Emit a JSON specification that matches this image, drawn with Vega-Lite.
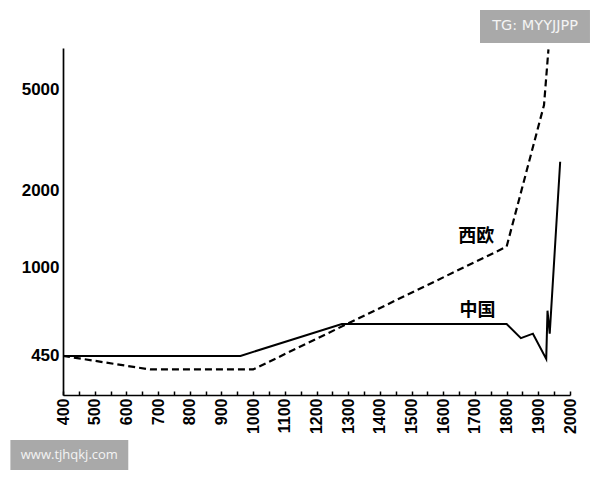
{
  "$schema": "https://vega.github.io/schema/vega-lite/v6.json",
  "autosize": "none",
  "width": 507,
  "height": 347,
  "padding": {"left": 63, "top": 48, "right": 30, "bottom": 85},
  "background": "white",
  "config": {"view": {"stroke": null}},
  "datasets": {
    "series": [
      {"series": "西欧", "year": 400, "value": 450},
      {"series": "西欧", "year": 675, "value": 398},
      {"series": "西欧", "year": 1000, "value": 398},
      {"series": "西欧", "year": 1800, "value": 1207},
      {"series": "西欧", "year": 1918, "value": 4340},
      {"series": "西欧", "year": 1932, "value": 7180},
      {"series": "中国", "year": 400, "value": 450},
      {"series": "中国", "year": 960, "value": 450},
      {"series": "中国", "year": 1280, "value": 600},
      {"series": "中国", "year": 1800, "value": 600},
      {"series": "中国", "year": 1845, "value": 528},
      {"series": "中国", "year": 1883, "value": 550},
      {"series": "中国", "year": 1925, "value": 438},
      {"series": "中国", "year": 1929, "value": 677},
      {"series": "中国", "year": 1936, "value": 550},
      {"series": "中国", "year": 1969, "value": 2600}
    ],
    "labels": [
      {"label": "西欧", "year": 1704, "value": 1318},
      {"label": "中国", "year": 1708, "value": 672}
    ],
    "marks": [
      {"text": "TG: MYYJJPP", "year": 1716, "year2": 2063, "value": 7600, "value2": 10248, "xm": 1890, "ym": 8830},
      {"text": "www.tjhqkj.com", "year": 234, "year2": 606, "value": 160.5, "value2": 210.4, "xm": 420, "ym": 183.7}
    ]
  },
  "encoding": {
    "x": {
      "field": "year", "type": "quantitative",
      "scale": {"domain": [400, 2000], "nice": false, "zero": false},
      "axis": {
        "title": null,
        "values": [400,450,500,550,600,650,700,750,800,850,900,950,1000,1050,1100,1150,1200,1250,1300,1350,1400,1450,1500,1550,1600,1650,1700,1750,1800,1850,1900,1950,2000],
        "labelExpr": "datum.value % 100 === 0 ? format(datum.value, 'd') : ''",
        "labelAngle": 270,
        "labelFont": "Liberation Sans",
        "labelFontSize": 16,
        "labelFontWeight": "bold",
        "labelColor": "#000",
        "labelPadding": 7,
        "labelOverlap": false,
        "labelFlush": false,
        "labelBound": false,
        "tickSize": -4,
        "tickColor": "#000",
        "tickWidth": 1.5,
        "domainColor": "#000",
        "domainWidth": 1.7,
        "grid": false
      }
    },
    "y": {
      "field": "value", "type": "quantitative",
      "scale": {"type": "log", "domain": [316, 7266], "nice": false, "zero": false},
      "axis": {
        "title": null,
        "values": [450, 1000, 2000, 5000],
        "format": "d",
        "ticks": false,
        "labelFont": "Liberation Sans",
        "labelFontSize": 17,
        "labelFontWeight": "bold",
        "labelColor": "#000",
        "labelPadding": 4,
        "domainColor": "#000",
        "domainWidth": 1.7,
        "grid": false
      }
    }
  },
  "layer": [
    {
      "data": {"name": "series"},
      "transform": [{"filter": "datum.series === '西欧'"}],
      "mark": {"type": "line", "color": "#000", "strokeWidth": 2.2, "strokeDash": [7, 4], "clip": true},
      "encoding": {"order": {"field": "year"}}
    },
    {
      "data": {"name": "series"},
      "transform": [{"filter": "datum.series === '中国'"}],
      "mark": {"type": "line", "color": "#000", "strokeWidth": 2, "clip": true},
      "encoding": {"order": {"field": "year"}}
    },
    {
      "data": {"name": "labels"},
      "mark": {"type": "text", "font": "Noto Sans CJK SC", "fontWeight": "bold", "fontSize": 18, "color": "#000", "align": "center", "baseline": "middle"},
      "encoding": {"text": {"field": "label"}}
    },
    {
      "data": {"name": "marks"},
      "mark": {"type": "rect", "color": "#a9a9a9", "clip": false},
      "encoding": {
        "x2": {"field": "year2"},
        "y2": {"field": "value2"}
      }
    },
    {
      "data": {"name": "marks"},
      "transform": [{"filter": "datum.text === 'TG: MYYJJPP'"}],
      "mark": {"type": "text", "font": "DejaVu Sans", "fontSize": 14.5, "color": "#f4f4f4", "align": "center", "baseline": "middle", "clip": false},
      "encoding": {
        "x": {"field": "xm", "type": "quantitative"},
        "y": {"field": "ym", "type": "quantitative"},
        "text": {"field": "text"}
      }
    },
    {
      "data": {"name": "marks"},
      "transform": [{"filter": "datum.text === 'www.tjhqkj.com'"}],
      "mark": {"type": "text", "font": "Open Sans", "fontSize": 13, "color": "#f4f4f4", "align": "center", "baseline": "middle", "clip": false},
      "encoding": {
        "x": {"field": "xm", "type": "quantitative"},
        "y": {"field": "ym", "type": "quantitative"},
        "text": {"field": "text"}
      }
    }
  ]
}
